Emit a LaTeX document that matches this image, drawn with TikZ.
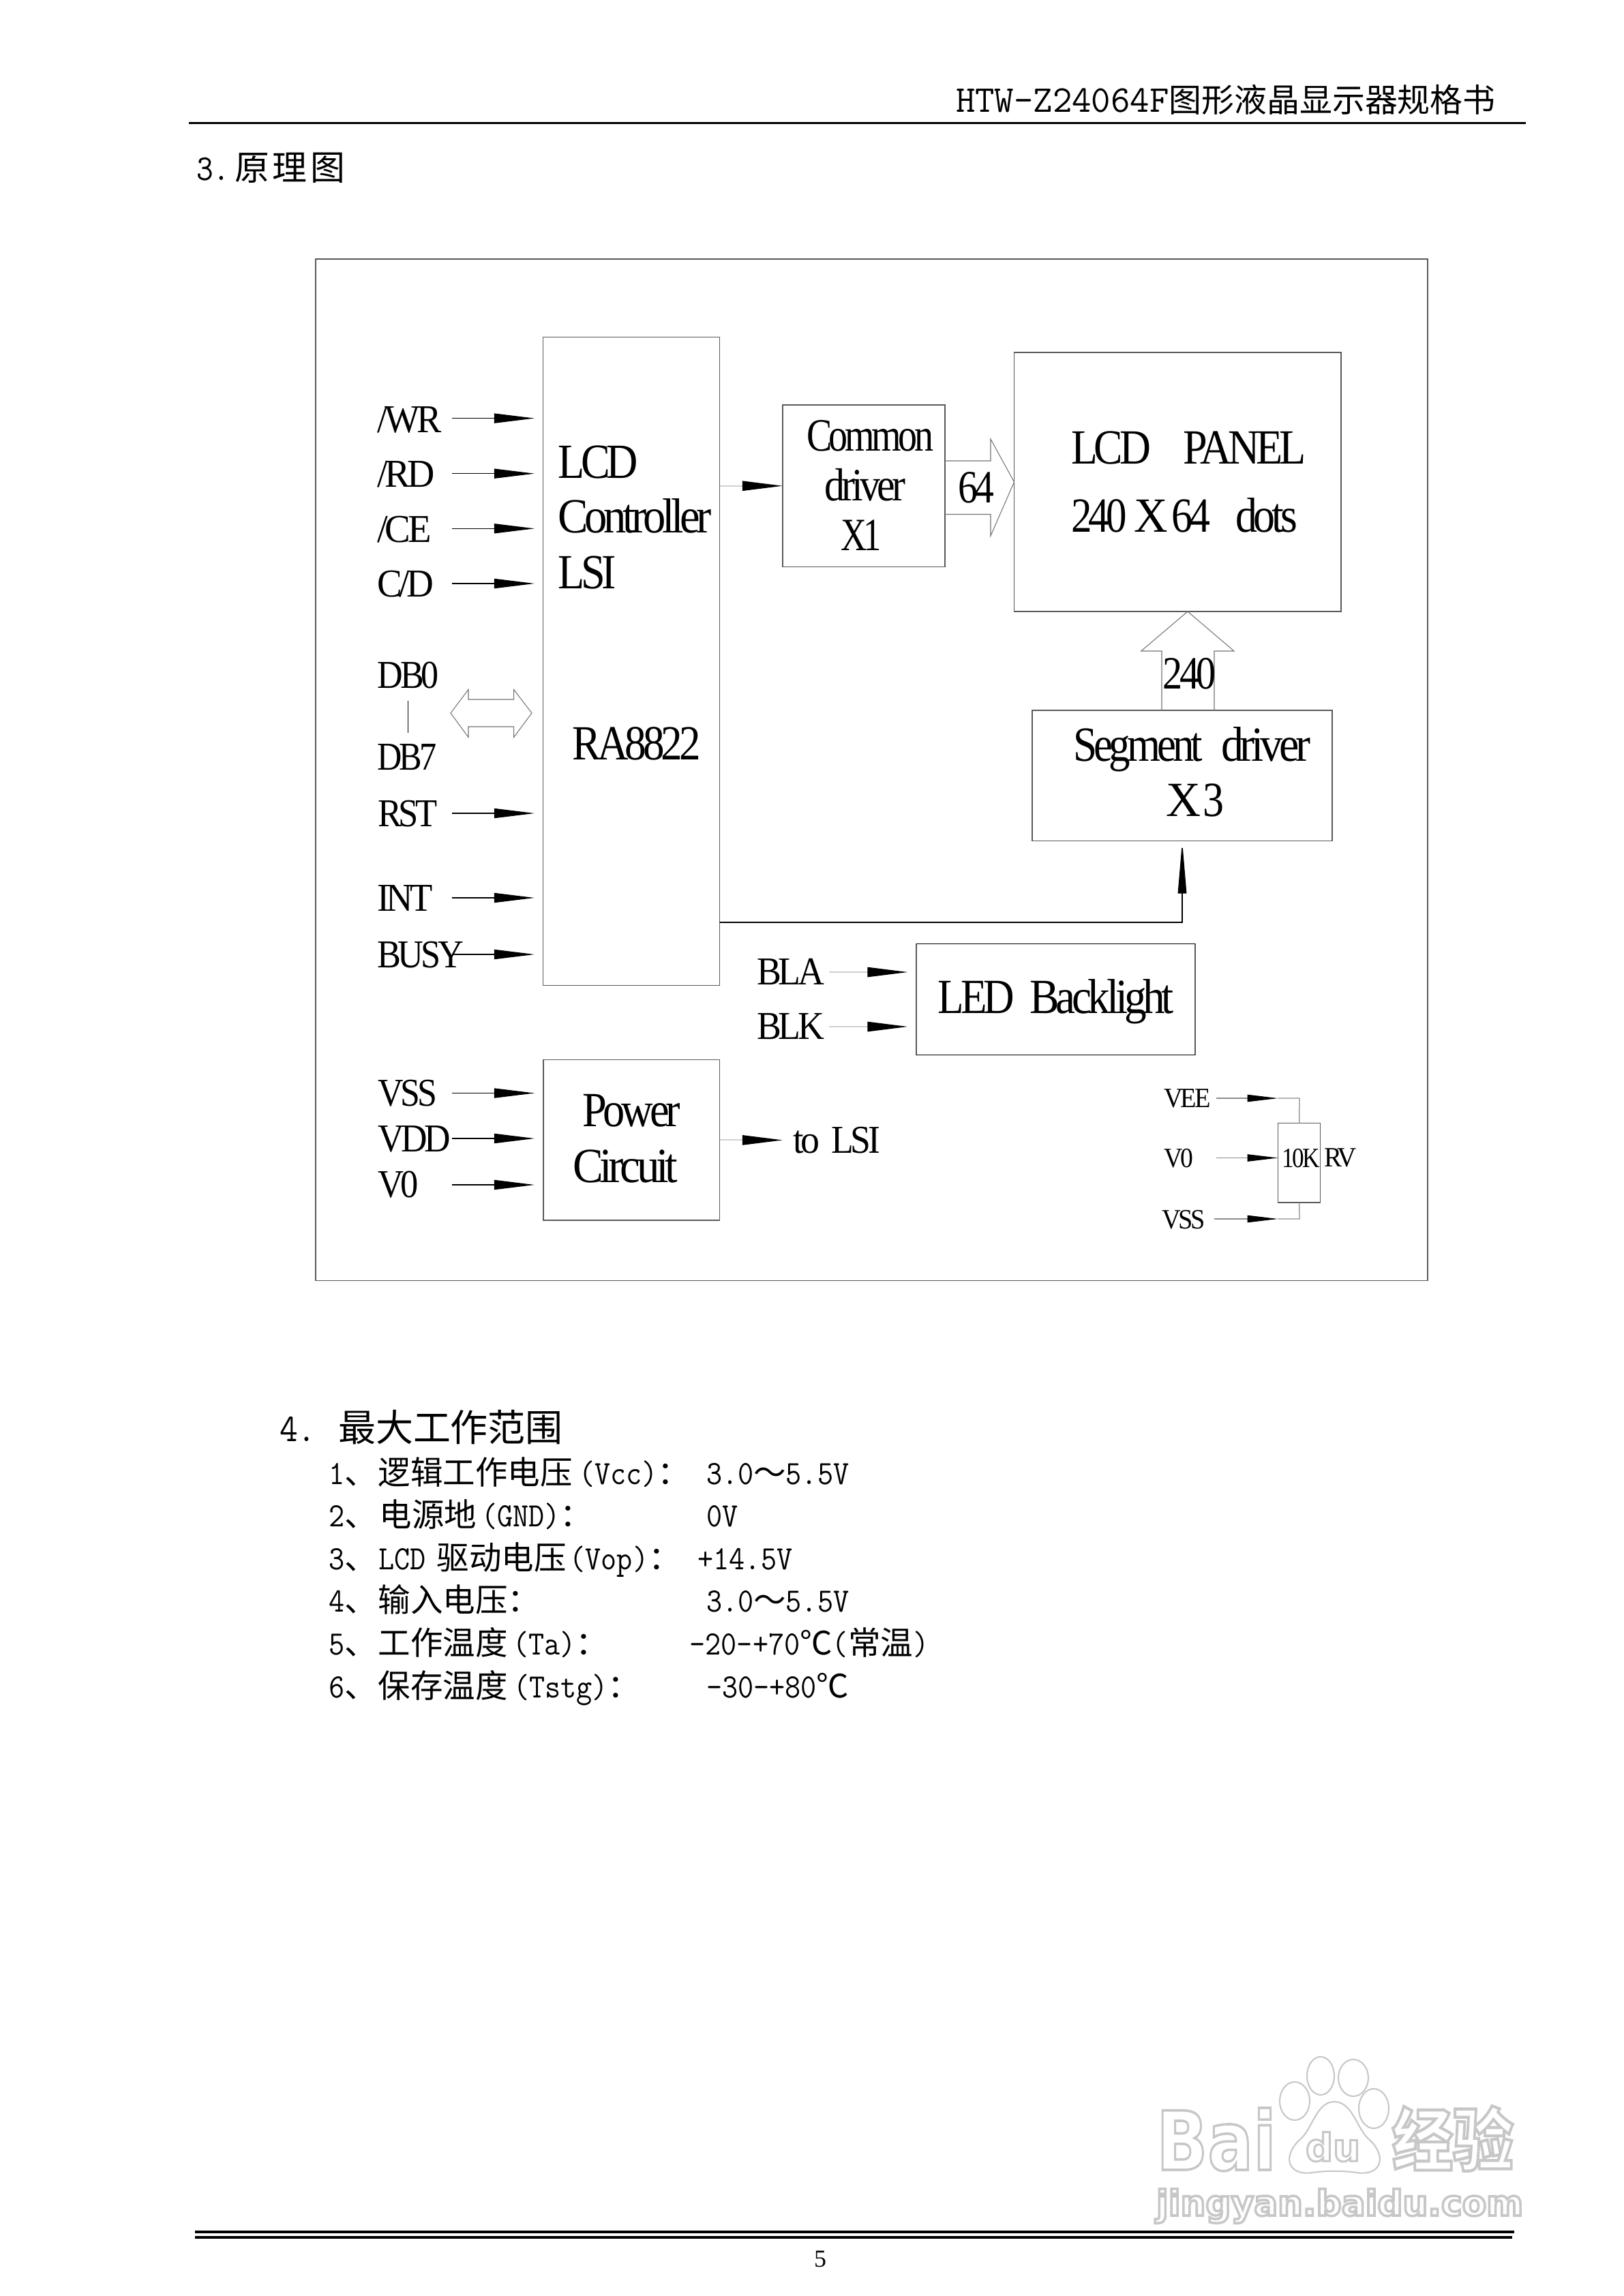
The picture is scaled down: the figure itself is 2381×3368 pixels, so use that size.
\documentclass[tikz,border=0pt]{standalone}
\usepackage{fontspec}
\usepackage{graphicx}
\usetikzlibrary{arrows.meta,calc}
\setmainfont[LetterSpace=-8]{Liberation Serif}
\newfontfamily\cjk{Noto Sans CJK SC}
\setmonofont[FakeStretch=0.9,Scale=1.05]{Latin Modern Mono}
\newcommand\hw{\ttfamily}
\newfontfamily\wmf{DejaVu Sans Bold}
\newdimen\pxu \pxu=0.24pt
\newcommand\fbig{\fontsize{17.3pt}{20pt}\selectfont}
\newcommand\fcom{\fontsize{16.3pt}{20pt}\selectfont}
\newcommand\fmid{\fontsize{13.9pt}{16pt}\selectfont}
\newcommand\fsml{\fontsize{9.84pt}{12pt}\selectfont}
\newcommand\fbody{\fontsize{11.4pt}{14pt}\selectfont}
\newcommand\fhead{\fontsize{13.2pt}{16pt}\selectfont}
\newcommand\fw[2]{\resizebox{#1\pxu}{\height}{#2}}
\newcommand\cell[2]{\makebox[#1\pxu][l]{#2}}
\definecolor{ln}{gray}{0.35}
\tikzset{
  x=0.24pt,y=-0.24pt,
  lbl/.style={anchor=base west,inner sep=0pt,outer sep=0pt,text=black},
  block/.style={draw=ln,line width=0.3pt,inner sep=0pt,outer sep=0pt,fill=none},
  wire/.style={draw=ln,line width=0.3pt},
  sig/.style={draw=black,line width=0.3pt,-{Triangle[length=14.2pt,width=3.4pt]}},
  sigl/.style={draw=black!18,line width=0.5pt,-{Triangle[length=14.2pt,width=3.4pt,color=black]}},
  sigs/.style={draw=black!45,line width=0.3pt,-{Triangle[length=10.8pt,width=2.5pt,color=black]}},
  sigu/.style={draw=black,line width=0.4pt,-{Triangle[length=18.5pt,width=3pt]}},
  hollow/.style={draw=black!55,line width=0.25pt,line join=miter},
  rule/.style={draw=black,line cap=butt},
  wmline/.style={draw=black!22,line width=0.5pt,fill=white},
}
\newcommand\bx[5]{%
  \pgfmathsetmacro\cxx{(#2+#4)/2}\pgfmathsetmacro\cyy{(#3+#5)/2}%
  \pgfmathsetmacro\wxx{(#4-#2)*0.24}\pgfmathsetmacro\hyy{(#5-#3)*0.24}%
  \node[block,minimum width=\wxx pt,minimum height=\hyy pt] (#1) at (\cxx,\cyy) {};}
\newcommand\lb[6]{\node[lbl,font=#4] (#1) at (#2,#3) {\fw{#5}{#6}};}
\newcommand\sg[4]{%
  \coordinate (#1A) at (#2,#4);\coordinate (#1B) at (#3,#4);
  \draw[sig] (#1A) -- (#1B);}
\newcommand\sgl[4]{%
  \coordinate (#1A) at (#2,#4);\coordinate (#1B) at (#3,#4);
  \draw[sigl] (#1A) -- (#1B);}
\newcommand\sgs[4]{%
  \coordinate (#1A) at (#2,#4);\coordinate (#1B) at (#3,#4);
  \draw[sigs] (#1A) -- (#1B);}
\newcommand\outl[1]{\special{pdf:code q 1 Tr 0.9 w 0.78 G}#1\special{pdf:code Q}}
\begin{document}
\begin{tikzpicture}
\useasboundingbox (0,0) rectangle (2381,3368);
\fill[white] (0,0) rectangle (2381,3368);

% watermark
\node[lbl,font=\wmf\addfontfeature{LetterSpace=0}\fontsize{30pt}{30pt}\selectfont] (wmbai) at (1696,3183) {\resizebox{176\pxu}{91\pxu}{\outl{Bai}}};
\node[lbl,font=\cjk\bfseries\fontsize{21pt}{21pt}\selectfont] (wmjy) at (2042,3176) {\resizebox{178\pxu}{87\pxu}{\outl{经验}}};
\node[lbl,font=\wmf\fontsize{13pt}{13pt}\selectfont] (wmurl) at (1696,3250) {\resizebox{538\pxu}{!}{\outl{jingyan.baidu.com}}};
\draw[wmline] (1899,3082) ellipse [x radius=22,y radius=28];
\draw[wmline] (1937,3045) ellipse [x radius=20,y radius=28];
\draw[wmline] (1985,3048) ellipse [x radius=22,y radius=27];
\draw[wmline] (2015,3093) ellipse [x radius=22,y radius=29];
\draw[wmline] (1957,3083) .. controls (1930,3083) and (1925,3125) .. (1905,3140)
  .. controls (1880,3165) and (1890,3192) .. (1925,3187)
  .. controls (1945,3184) and (1970,3184) .. (1990,3187)
  .. controls (2025,3192) and (2035,3165) .. (2010,3140)
  .. controls (1990,3125) and (1985,3083) .. (1957,3083) -- cycle;
\node[lbl,font=\wmf\fontsize{17pt}{17pt}\selectfont] (wmdu) at (1915,3170) {\resizebox{80\pxu}{!}{\outl{du}}};

% header
\node[lbl,font=\fontsize{12.7pt}{15pt}\selectfont] (hdr) at (1402,164)
  {\cell{312.5}{\fw{312.5}{\hw HTW-Z24064F}}{\cjk\fontsize{11.5pt}{14pt}\selectfont 图形液晶显示器规格书}};
\coordinate (hrA) at (277,180.7);\coordinate (hrB) at (2237.5,180.7);
\draw[rule,line width=0.65pt] (hrA) -- (hrB);
\node[lbl,font=\fontsize{12.2pt}{15pt}\selectfont] (sec3) at (288,264)
  {\cell{56}{\hw 3.}{\cjk\addfontfeature{LetterSpace=10}原理图}};

% frame
\bx{frame}{463}{380}{2094}{1878.5}

% blocks
\bx{lsi}{796.5}{494.5}{1055.5}{1445.5}
\bx{common}{1148}{594}{1386}{831.5}
\bx{panel}{1487.5}{517}{1967}{897}
\bx{seg}{1514}{1042}{1954}{1233.5}
\bx{led}{1344}{1384.5}{1753}{1547.5}
\bx{power}{797}{1554.5}{1055.5}{1790}
\bx{res}{1874.5}{1647.5}{1936.7}{1764}
\draw[black,line width=0.4pt] (led.north west) -- (led.north east) (led.south west) -- (led.south east);

% left labels
\lb{wr}{553.6}{634}{\fmid}{94}{/WR}
\lb{rd}{553.6}{714.6}{\fmid}{84}{/RD}
\lb{ce}{553.6}{795}{\fmid}{79}{/CE}
\lb{cd}{553}{875}{\fmid}{83}{C/D}
\lb{db0}{553.6}{1009.5}{\fmid}{90}{DB0}
\lb{db7}{553.6}{1129}{\fmid}{87}{DB7}
\lb{rst}{554}{1212}{\fmid}{88}{RST}
\lb{int}{553}{1336}{\fmid}{82}{INT}
\lb{busy}{553}{1419}{\fmid}{127}{BUSY}
\lb{vss}{554}{1622}{\fmid}{87}{VSS}
\lb{vdd}{554}{1689}{\fmid}{107}{VDD}
\lb{vo}{554}{1756}{\fmid}{60}{V0}

% input arrows
\sg{wra}{663}{784}{613.6}
\sg{rda}{663}{784}{694.7}
\sg{cea}{663}{784}{775.3}
\sg{cda}{663}{784}{856}
\sg{rsta}{663}{784}{1193}
\sg{inta}{663}{784}{1317}
\sg{busya}{663}{784}{1400}
\sg{vssa}{663}{784}{1603.5}
\sg{vdda}{663}{784}{1670}
\sg{voa}{663}{784}{1738}

% DB bar and double arrow
\coordinate (barB) at (598.5,1075);
\coordinate (barA) at (598.5,1028);
\draw[draw=black,line width=0.3pt] (barA) -- (barB);
\draw[hollow] (661,1046) -- (687,1011.5) -- (687,1026) -- (753.6,1026) -- (753.6,1011.5)
  -- (780,1046) -- (753.6,1081.5) -- (753.6,1066) -- (687,1066) -- (687,1081.5) -- cycle;

% LSI text
\lb{t1}{818}{701}{\fbig}{118}{LCD}
\lb{t2}{818}{781}{\fbig}{226}{Controller}
\lb{t3}{818}{863}{\fbig}{86}{LSI}
\lb{t4}{839}{1114}{\fbig}{188.5}{RA8822}

% common
\draw[sigl] (lsi.east |- common.west) -- (common.west);
\lb{c1}{1183}{661}{\fcom}{186}{Common}
\lb{c2}{1209.4}{734.6}{\fcom}{119}{driver}
\lb{c3}{1233}{807}{\fcom}{60}{X1}

% 64 arrow
\draw[hollow] (common.east |- 0,676) -- (1453,676) -- (1453,644) -- (panel.west) -- (1453,786) -- (1453,754.5) -- (common.east |- 0,754.5);
\lb{n64}{1405}{737}{\fcom}{53}{64}

% panel
\node[lbl,font=\fbig] (p1) at (1571,680) {\cell{164.6}{\fw{117}{LCD}}\fw{180.4}{PANEL}};
\node[lbl,font=\fbig] (p2) at (1571,780) {\cell{92.5}{\fw{81.7}{240}}\cell{54.5}{\fw{49.5}{X}}\cell{94}{\fw{57}{64}}\fw{91}{dots}};

% 240 arrow
\draw[hollow] (1704,1042) -- (1704,955) -- (1673.7,955) -- (panel.south -| 1742,0) -- (1810,955) -- (1781,955) -- (1781,1042);
\lb{n240}{1705.6}{1010.6}{\fcom}{78}{240}

% segment
\node[lbl,font=\fbig] (s1) at (1574,1116) {\cell{217}{\fw{190}{Segment}}\fw{131}{driver}};
\node[lbl,font=\fbig] (s2) at (1710,1197) {\cell{54}{\fw{51}{X}}\fw{31}{3}};
\coordinate (turn) at (1734,1353);
\draw[sigu] (lsi.east |- turn) -- (turn) -- (seg.south);

% backlight
\lb{bla}{1110}{1444.6}{\fmid}{99}{BLA}
\lb{blk}{1110}{1524}{\fmid}{99}{BLK}
\sgl{blaa}{1216}{1331.6}{1426}
\sgl{blka}{1216}{1331.6}{1506}
\node[lbl,font=\fbig] (ledt) at (1375.5,1486.5) {\cell{134.5}{\fw{112.5}{LED}}\fw{212}{Backlight}};

% power
\lb{pw1}{854}{1652.5}{\fbig}{144}{Power}
\lb{pw2}{840}{1734}{\fbig}{154}{Circuit}
\coordinate (tolsitip) at (1148,1672.4);
\draw[sigl] (power.east |- tolsitip) -- (tolsitip);
\node[lbl,font=\fmid] (tolsi) at (1163,1691) {\cell{56}{\fw{39}{to}}\fw{72}{LSI}};

% resistor
\lb{vee}{1707}{1624.7}{\fsml}{68.5}{VEE}
\lb{v0b}{1707}{1712}{\fsml}{43}{V0}
\lb{vssb}{1704}{1802}{\fsml}{64}{VSS}
\lb{rk}{1880.6}{1712.7}{\fsml}{55}{10K}
\lb{rv}{1942}{1711}{\fsml}{48}{RV}
\sgs{veea}{1783.7}{1874.5}{1611}
\coordinate (veec) at (1906,1611);
\draw[wire,black!45] (veeaB) -- (veec) -- (res.north);
\sgs{v0a}{1783.7}{1874.5}{1698.5}
\sgs{vssc}{1781}{1874.5}{1788}
\coordinate (vssd) at (1906,1788);
\draw[wire,black!45] (res.south) -- (vssd) -- (vsscB);

% section 4
\node[lbl,font=\fhead] (sec4) at (410,2114) {\cell{86}{\hw 4.}{\cjk 最大工作范围}};
\node[lbl,font=\fbody] (l1) at (482,2177.7) {\cell{73}{\hw 1{\cjk 、}}\cell{294}{\cjk 逻辑工作电压}\cell{187}{\hw (Vcc){\cjk ：}}{\hw 3.0{\cjk ～}5.5V}};
\node[lbl,font=\fbody] (l2) at (482,2239.3) {\cell{75}{\hw 2{\cjk 、}}\cell{149}{\cjk 电源地}\cell{330}{\hw (GND){\cjk ：}}{\hw 0V}};
\node[lbl,font=\fbody] (l3) at (482,2302.3) {\cell{73}{\hw 3{\cjk 、}}\cell{85.6}{\hw LCD}\cell{195}{\cjk 驱动电压}\cell{188}{\hw (Vop){\cjk ：}}{\hw +14.5V}};
\node[lbl,font=\fbody] (l4) at (482,2364.3) {\cell{73}{\hw 4{\cjk 、}}\cell{481}{\cjk 输入电压：}{\hw 3.0{\cjk ～}5.5V}};
\node[lbl,font=\fbody] (l5) at (482,2427.3) {\cell{73}{\hw 5{\cjk 、}}\cell{197}{\cjk 工作温度}\cell{259.6}{\hw (Ta){\cjk ：}}{\hw -20-+70{\cjk ℃}({\cjk 常温})}};
\node[lbl,font=\fbody] (l6) at (482,2490) {\cell{73}{\hw 6{\cjk 、}}\cell{198}{\cjk 保存温度}\cell{283}{\hw (Tstg){\cjk ：}}{\hw -30-+80{\cjk ℃}}};

% footer
\coordinate (f1A) at (286,3274);\coordinate (f1B) at (2220.5,3274);
\coordinate (f2A) at (286,3282);\coordinate (f2B) at (2218,3282);
\draw[rule,line width=0.75pt] (f1A) -- (f1B);
\draw[rule,line width=0.75pt] (f2A) -- (f2B);
\node[lbl,font=\fontsize{8.6pt}{10pt}\selectfont] (pg) at (1194,3325) {5};
\end{tikzpicture}
\end{document}
